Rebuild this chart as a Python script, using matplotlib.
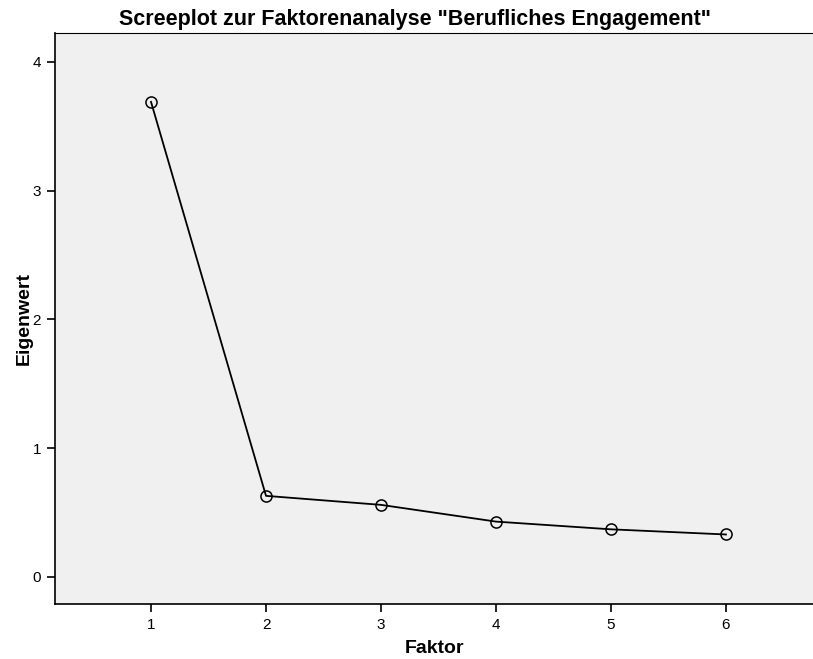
import matplotlib
matplotlib.use("Agg")
import matplotlib.pyplot as plt

# data
faktoren = [1, 2, 3, 4, 5, 6]
eigenwerte = [3.69, 0.63, 0.56, 0.43, 0.37, 0.33]
y_ticks = [0, 1, 2, 3, 4]

plt.rcParams['font.family'] = ['Liberation Sans', 'DejaVu Sans']

fig = plt.figure(figsize=(8.13, 6.59), dpi=100)
ax = fig.add_axes([55 / 813, 1 - 604 / 659, 758 / 813, 571 / 659])
ax.set_facecolor("#f0f0f0")

ax.plot(
    faktoren,
    eigenwerte,
    color="black",
    linewidth=1.3,
    marker="o",
    markersize=8,
    markerfacecolor="none",
    markeredgecolor="black",
    markeredgewidth=1.1
)

ax.set_xlim(0.165, 6.757)
ax.set_ylim(-0.21, 4.225)
ax.set_xticks(faktoren)
ax.set_yticks(y_ticks)

ax.spines["right"].set_visible(False)
for s in ["left", "bottom"]:
    ax.spines[s].set_linewidth(1.2)
ax.spines["top"].set_linewidth(0.8)

ax.tick_params(direction="out", length=6, width=1.2, labelsize=11, pad=4)

ax.set_xlabel("Faktor", fontsize=14, fontweight="bold", labelpad=6)
ax.set_ylabel("Eigenwert", fontsize=14, fontweight="bold", labelpad=0)
fig.text(
    415 / 813, 1 - 19 / 659,
    'Screeplot zur Faktorenanalyse "Berufliches Engagement"',
    ha="center", va="center", fontsize=15.5, fontweight="bold"
)

fig.savefig("out.png", dpi=100)
